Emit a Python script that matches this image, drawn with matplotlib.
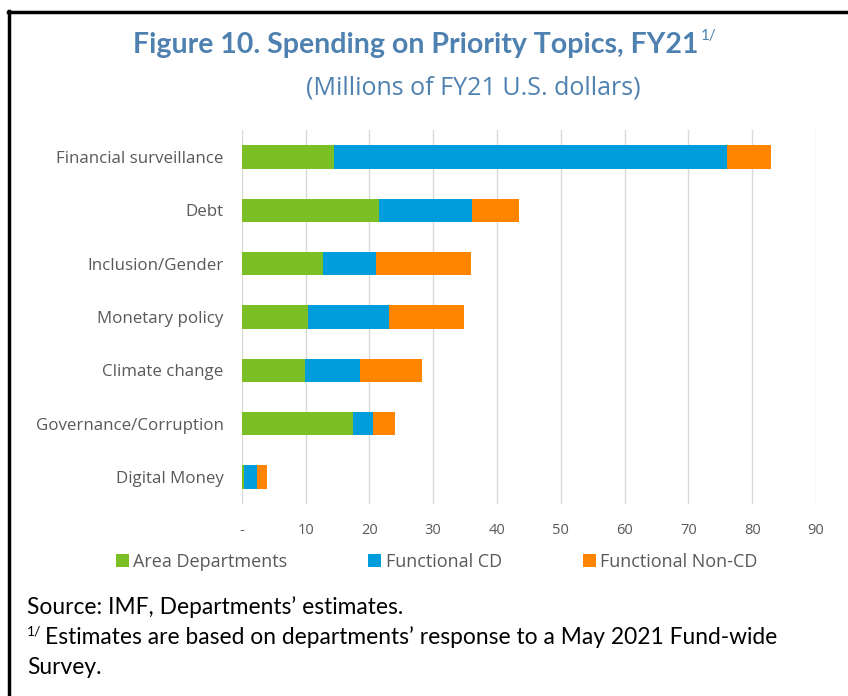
import matplotlib.pyplot as plt
import numpy as np

# Priority topics, top to bottom as drawn
topics = ["Financial surveillance", "Debt", "Inclusion/Gender", "Monetary policy",
          "Climate change", "Governance/Corruption", "Digital Money"]

# Spending by department type (millions of FY21 U.S. dollars)
area_departments = [14.4, 21.5, 12.8, 10.4, 9.9, 17.4, 0.4]
functional_cd = [61.6, 14.6, 8.3, 12.7, 8.6, 3.1, 2.0]
functional_non_cd = [7.0, 7.4, 14.8, 11.7, 9.7, 3.5, 1.6]

series_names = ["Area Departments", "Functional CD", "Functional Non-CD"]
series_colors = ["#7CBF24", "#009DDC", "#FF8500"]

x_ticks = [0, 10, 20, 30, 40, 50, 60, 70, 80, 90]
x_tick_labels = ["-", "10", "20", "30", "40", "50", "60", "70", "80", "90"]

title_blue = "#4F81B0"
label_gray = "#595959"
font = ["Open Sans", "DejaVu Sans"]
note_font = ["Lato", "DejaVu Sans"]

fig = plt.figure(figsize=(8.48, 6.96), dpi=100)
ax = fig.add_axes([0.2851, 0.2763, 0.9623 - 0.2851, 0.8128 - 0.2763])

y = np.arange(len(topics))
left = np.zeros(len(topics))
for vals, name, col in zip([area_departments, functional_cd, functional_non_cd],
                           series_names, series_colors):
    ax.barh(y, vals, left=left, height=0.44, color=col, label=name, zorder=3)
    left += np.array(vals)

ax.set_ylim(len(topics) - 0.5, -0.5)
ax.set_xlim(0, 90)
ax.set_yticks(y)
ax.set_yticklabels(topics, fontsize=12.2, color=label_gray, family=font)
ax.set_xticks(x_ticks)
ax.set_xticklabels(x_tick_labels, fontsize=10.5, color=label_gray, family=font)
ax.tick_params(axis="both", length=0)
ax.tick_params(axis="x", pad=14)
ax.tick_params(axis="y", pad=13)
ax.grid(axis="x", color="#D9D9D9", linewidth=1, zorder=0)
for s in ax.spines.values():
    s.set_visible(False)

# legend below the plot
handles, labels = ax.get_legend_handles_labels()
fig.legend(handles, labels, loc="center", bbox_to_anchor=(0.515, 1 - 562 / 696),
           ncol=3, frameon=False, handlelength=0.7, handleheight=0.7,
           handletextpad=0.25, columnspacing=4.5,
           prop={"family": font, "size": 13}, labelcolor=label_gray)

renderer = fig.canvas.get_renderer()

# title with superscript note marker
t = fig.text(133 / 848, 1 - 45 / 696, "Figure 10. Spending on Priority Topics, FY21",
             fontsize=20.5, fontweight="bold", color=title_blue, family=note_font,
             ha="left", va="center")
bb = t.get_window_extent(renderer)
fig.text(bb.x1 / fig.bbox.width + 0.003, 1 - 36 / 696, "1/", fontsize=11,
         color=title_blue, family=note_font, ha="left", va="center")
fig.text(473 / 848, 1 - 88 / 696, "(Millions of FY21 U.S. dollars)", fontsize=18,
         color=title_blue, family=font, ha="center", va="center")

# source and footnote
fig.text(27 / 848, 1 - 607 / 696, "Source: IMF, Departments\u2019 estimates.",
         fontsize=16.4, color="black", family=note_font, ha="left", va="center")
fig.text(27 / 848, 1 - 631 / 696, "1/", fontsize=10, color="black",
         family=note_font, ha="left", va="center")
fig.text(45 / 848, 1 - 637 / 696,
         "Estimates are based on departments\u2019 response to a May 2021 Fund-wide",
         fontsize=16.4, color="black", family=note_font, ha="left", va="center")
fig.text(27 / 848, 1 - 668 / 696, "Survey.", fontsize=16.4, color="black",
         family=note_font, ha="left", va="center")

# frame lines along top and left edges
fig.add_artist(plt.Line2D([8 / 848, 1], [1 - 12 / 696, 1 - 12 / 696],
                          color="black", linewidth=2.5, transform=fig.transFigure))
fig.add_artist(plt.Line2D([9 / 848, 9 / 848], [1 - 11 / 696, 0],
                          color="black", linewidth=2.5, transform=fig.transFigure))

fig.savefig("out.png", dpi=100)
